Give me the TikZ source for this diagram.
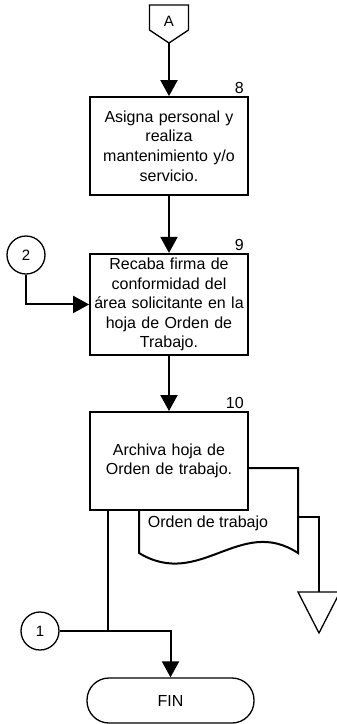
\documentclass[tikz,border=0pt]{standalone}
\usepackage{fontspec}
\setmainfont{Liberation Sans}
\usepackage{tikz}
\usetikzlibrary{positioning,arrows.meta,calc}
\tikzset{
  box/.style={rectangle, draw=black, fill=white, line width=1.8pt,
              text width=150pt, inner sep=4pt, align=center, minimum height=98pt,
              font=\fontsize{16}{19.6}\selectfont},
  num/.style={anchor=south east, inner sep=1pt, font=\fontsize{16}{18}\selectfont},
  conn/.style={circle, draw=black, line width=1.3pt, minimum size=38pt, inner sep=0pt,
               font=\fontsize{15}{17}\selectfont},
  term/.style={rectangle, rounded corners=22pt, draw=black, line width=1.3pt,
               minimum width=167pt, minimum height=45pt, font=\fontsize{16}{19}\selectfont},
  sym/.style={draw=black, line width=1.3pt},
  flow/.style={-{Triangle[length=16pt,width=17pt]}, line width=2pt},
  line/.style={line width=2pt}
}
\begin{document}
\begin{tikzpicture}[x=1pt,y=-1pt]
\useasboundingbox (0,0) rectangle (337,724);
% off-page connector
\draw[sym] (149.5,5) -- (188.5,5) -- (188.5,30) -- (169,43) -- (149.5,30) -- cycle;
\node[font=\fontsize{15}{17}\selectfont] (A) at (169,21) {A};
\coordinate (Ap) at (169,43);
% document behind box 10
\draw[line, fill=white] (139,468) -- (139,553) .. controls (200,590) and (240,515) .. (298,553)
  -- (298,468) -- cycle;
\node[font=\fontsize{16}{19}\selectfont] (doc) at (208,523) {Orden de trabajo};
\coordinate (docr) at (298,517);
% archive
\draw[sym] (298,592) -- (340,592) -- (319,633) -- cycle;
\coordinate (arch) at (319,592);
% steps
\node[box] (b8) at (169,146) {Asigna personal y\\realiza\\mantenimiento y/o\\servicio.};
\node[box, below=57pt of b8] (b9) {Recaba firma de\\conformidad del\\\'area solicitante en la\\hoja de Orden de\\Trabajo.};
\node[box, below=55pt of b9] (b10) {Archiva hoja de\\Orden de trabajo.};
\node[num] at ([xshift=-4pt,yshift=1pt]b8.north east) {8};
\node[num] at ([xshift=-4pt,yshift=1pt]b9.north east) {9};
\node[num] at ([xshift=-4pt,yshift=1pt]b10.north east) {10};
\node[conn] (c2) at (26,255) {2};
\node[conn] (c1) at (40,631) {1};
\node[term] (fin) at (170.5,700.5) {FIN};
\coordinate (j1) at (108,631);
% connectors
\draw[flow] (Ap) -- (b8);
\draw[flow] (b8) -- (b9);
\draw[flow] (b9) -- (b10);
\draw[flow] (c2) |- (b9);
\draw[line] (docr) -| (arch);
\draw[line] (b10.south -| j1) -- (j1);
\draw[flow] (c1) -| (fin);
\end{tikzpicture}
\end{document}
